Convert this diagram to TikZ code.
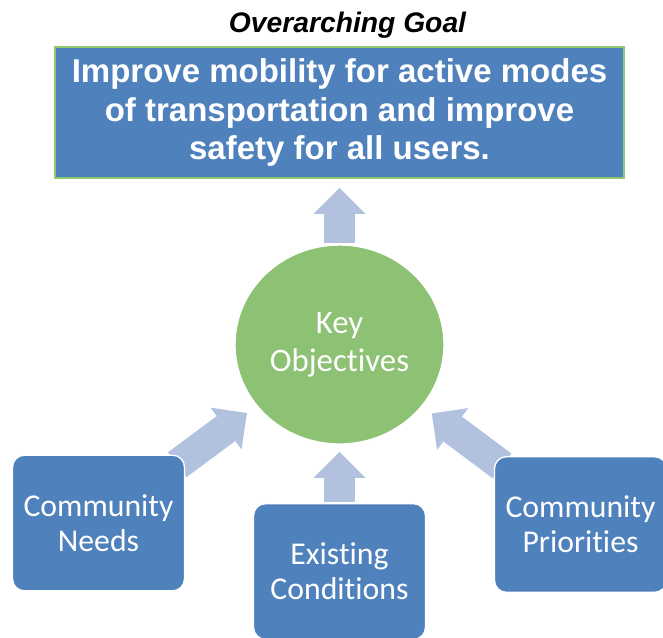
\documentclass[tikz,border=0pt]{standalone}
\usepackage{fontspec}
\setmainfont{Liberation Sans}
\newfontfamily\bodyfont[Ligatures=NoCommon]{Carlito}
\usepackage{xcolor}
\usetikzlibrary{arrows.meta,shapes.geometric,backgrounds}
\definecolor{boxblue}{RGB}{79,129,189}
\definecolor{keygreen}{RGB}{141,193,115}
\definecolor{rimgreen}{RGB}{146,200,110}
\definecolor{arrowblue}{RGB}{177,193,222}

\begin{document}
\begin{tikzpicture}[line cap=butt,line join=miter,x=0.75pt,y=-0.75pt,
        goalbox/.style={draw=rimgreen,line width=2pt,fill=boxblue,text=white,inner sep=0pt,
            minimum width=426.75pt,minimum height=98.25pt,align=center,
            font=\bfseries\fontsize{24.75}{29}\selectfont},
        keynode/.style={ellipse,draw=white,line width=1pt,fill=keygreen,text=white,inner sep=0pt,
            minimum width=156.75pt,minimum height=149.25pt,align=center,
            font=\bodyfont\fontsize{24.6}{28.5}\selectfont},
        inputbox/.style={rounded corners=9pt,draw=white,line width=1pt,fill=boxblue,text=white,inner sep=0pt,
            minimum width=129pt,minimum height=101.75pt,align=center,
            font=\bodyfont\fontsize{23.8}{26.5}\selectfont},
        blockarrow/.style={draw=arrowblue,line width=23.25pt,
            -{Triangle[width=39pt,length=19.5pt,line width=0pt]}}]
    \useasboundingbox (0,0) rectangle (663,637);
    % goal on top, objectives in the middle, three inputs below
    \node[anchor=base,font=\bfseries\itshape\fontsize{21.2}{25}\selectfont] (title) at (347.5,32) {Overarching Goal};
    \node[goalbox] (goal) at (339.5,112.5) {Improve mobility for active modes\\of transportation and improve\\safety for all users.};
    \node[keynode] (key) at (339.5,344.5) {Key\\Objectives};
    \node[inputbox] (needs) at (98.5,523) {Community\\Needs};
    \node[inputbox] (exist) at (339.5,571.5) {Existing\\Conditions};
    \node[inputbox] (prior) at (580.5,524.5) {Community\\Priorities};
    \begin{scope}[on background layer]
        \draw[blockarrow,shorten <=76pt,shorten >=56.6pt] (key.center) -- (goal.center);
        \draw[blockarrow,shorten <=73.5pt,shorten >=86.4pt] (needs.center) -- (key.center);
        \draw[blockarrow,shorten <=52.1pt,shorten >=80.6pt] (exist.center) -- (key.center);
        \draw[blockarrow,shorten <=73.5pt,shorten >=86.4pt] (prior.center) -- (key.center);
    \end{scope}
\end{tikzpicture}
\end{document}
